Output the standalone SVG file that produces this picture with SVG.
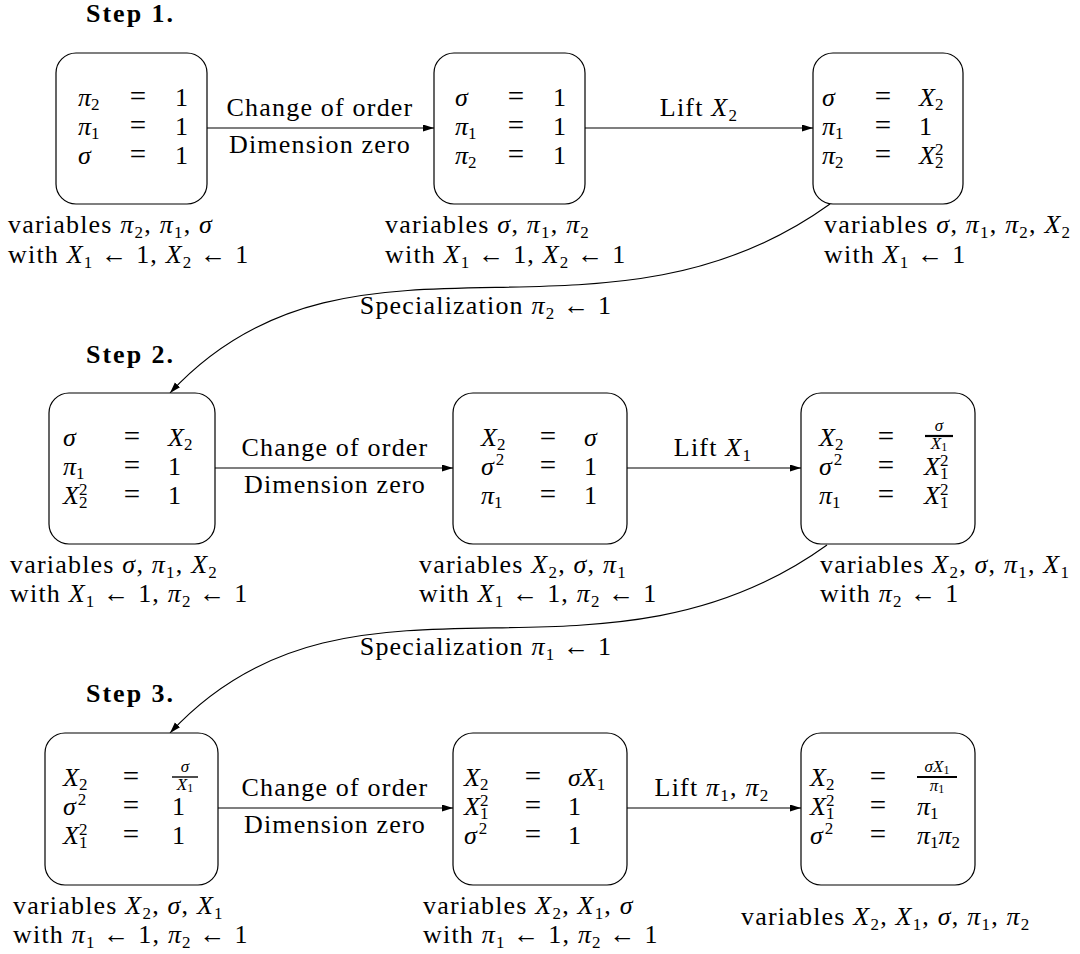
<svg xmlns="http://www.w3.org/2000/svg" width="1080" height="954" viewBox="0 0 1080 954">
<defs>
<style>
.t{font-family:"Liberation Serif","Times New Roman","DejaVu Serif",serif;font-size:26px;fill:#000}
.lb{letter-spacing:1.2px}
.i{font-style:italic}
.s{font-size:17px}
.f{font-size:17px}
.fs{font-size:12px}
.m{text-anchor:middle}
.q{font-size:29px}
.st{font-weight:bold;letter-spacing:2px}
.box{fill:#fff;stroke:#000;stroke-width:1.2}
.e{fill:none;stroke:#000;stroke-width:1.1;marker-end:url(#ah)}
.bar{stroke:#000}
</style>
<marker id="ah" markerWidth="11" markerHeight="8" refX="11" refY="3.5" orient="auto" markerUnits="userSpaceOnUse"><path d="M0,0 L11,3.5 L0,7 Z" fill="#000"/></marker>
</defs>
<rect width="1080" height="954" fill="#fff"/>

<g id="steps">
<text class="t st" x="86" y="22">Step 1.</text>
<text class="t st" x="86" y="363">Step 2.</text>
<text class="t st" x="86" y="702">Step 3.</text>
</g>

<g id="connectors">
<path class="e" d="M207,128 H434"/>
<path class="e" d="M585,128 H813"/>
<path class="e" d="M215,468 H453"/>
<path class="e" d="M627,468 H801"/>
<path class="e" d="M218,808 H453"/>
<path class="e" d="M627,808 H801"/>
<path class="e" d="M830,204 C600,370 350,198 170,393"/>
<path class="e" d="M827,545 C597,711 350,538 170,733"/>
<text class="t lb m" x="320" y="116">Change of order</text>
<text class="t lb m" x="320" y="153">Dimension zero</text>
<text class="t lb m" x="335" y="456">Change of order</text>
<text class="t lb m" x="335" y="493">Dimension zero</text>
<text class="t lb m" x="335" y="796">Change of order</text>
<text class="t lb m" x="335" y="833">Dimension zero</text>
<text class="t lb m" x="699" y="116">Lift <tspan class="i">X</tspan><tspan class="s" dy="5">2</tspan></text>
<text class="t lb m" x="713" y="456">Lift <tspan class="i">X</tspan><tspan class="s" dy="5">1</tspan></text>
<text class="t lb m" x="712" y="796">Lift <tspan class="i">π</tspan><tspan class="s" dy="5">1</tspan><tspan dy="-5">, </tspan><tspan class="i">π</tspan><tspan class="s" dy="5">2</tspan></text>
<text class="t lb m" x="486" y="314">Specialization <tspan class="i">π</tspan><tspan class="s" dy="5">2</tspan><tspan dy="-5"> ← 1</tspan></text>
<text class="t lb m" x="486" y="655">Specialization <tspan class="i">π</tspan><tspan class="s" dy="5">1</tspan><tspan dy="-5"> ← 1</tspan></text>
</g>

<g id="nA">
<rect class="box" x="56" y="53" width="151" height="151" rx="20"/>
<text class="t" x="78" y="106"><tspan class="i">π</tspan><tspan class="s" dy="4">2</tspan></text>
<text class="t m q" x="138" y="106">=</text>
<text class="t" x="175" y="106">1</text>
<text class="t" x="78" y="135"><tspan class="i">π</tspan><tspan class="s" dy="4">1</tspan></text>
<text class="t m q" x="138" y="135">=</text>
<text class="t" x="175" y="135">1</text>
<text class="t i" x="78" y="164">σ</text>
<text class="t m q" x="138" y="164">=</text>
<text class="t" x="175" y="164">1</text>
<text class="t lb" x="8" y="233">variables <tspan class="i">π</tspan><tspan class="s" dy="5">2</tspan><tspan dy="-5">, </tspan><tspan class="i">π</tspan><tspan class="s" dy="5">1</tspan><tspan dy="-5">, </tspan><tspan class="i">σ</tspan></text>
<text class="t lb" x="8" y="263">with <tspan class="i">X</tspan><tspan class="s" dy="5">1</tspan><tspan dy="-5"> ← 1, </tspan><tspan class="i">X</tspan><tspan class="s" dy="5">2</tspan><tspan dy="-5"> ← 1</tspan></text>
</g>

<g id="nB">
<rect class="box" x="434" y="53" width="151" height="151" rx="20"/>
<text class="t i" x="455" y="106">σ</text>
<text class="t m q" x="516" y="106">=</text>
<text class="t" x="553" y="106">1</text>
<text class="t" x="455" y="135"><tspan class="i">π</tspan><tspan class="s" dy="4">1</tspan></text>
<text class="t m q" x="516" y="135">=</text>
<text class="t" x="553" y="135">1</text>
<text class="t" x="455" y="164"><tspan class="i">π</tspan><tspan class="s" dy="4">2</tspan></text>
<text class="t m q" x="516" y="164">=</text>
<text class="t" x="553" y="164">1</text>
<text class="t lb" x="385" y="233">variables <tspan class="i">σ</tspan>, <tspan class="i">π</tspan><tspan class="s" dy="5">1</tspan><tspan dy="-5">, </tspan><tspan class="i">π</tspan><tspan class="s" dy="5">2</tspan></text>
<text class="t lb" x="385" y="263">with <tspan class="i">X</tspan><tspan class="s" dy="5">1</tspan><tspan dy="-5"> ← 1, </tspan><tspan class="i">X</tspan><tspan class="s" dy="5">2</tspan><tspan dy="-5"> ← 1</tspan></text>
</g>

<g id="nC">
<rect class="box" x="813" y="53" width="150" height="151" rx="20"/>
<text class="t i" x="822" y="106">σ</text>
<text class="t m q" x="883" y="106">=</text>
<text class="t" x="919" y="106"><tspan class="i">X</tspan><tspan class="s" dy="4">2</tspan></text>
<text class="t" x="822" y="135"><tspan class="i">π</tspan><tspan class="s" dy="4">1</tspan></text>
<text class="t m q" x="883" y="135">=</text>
<text class="t" x="919" y="135">1</text>
<text class="t" x="822" y="164"><tspan class="i">π</tspan><tspan class="s" dy="4">2</tspan></text>
<text class="t m q" x="883" y="164">=</text>
<text class="t" x="919" y="164"><tspan class="i">X</tspan><tspan class="s" dy="4">2</tspan><tspan class="s" dx="-8.5" dy="-13">2</tspan></text>
<text class="t lb" x="824" y="233">variables <tspan class="i">σ</tspan>, <tspan class="i">π</tspan><tspan class="s" dy="5">1</tspan><tspan dy="-5">, </tspan><tspan class="i">π</tspan><tspan class="s" dy="5">2</tspan><tspan dy="-5">, </tspan><tspan class="i">X</tspan><tspan class="s" dy="5">2</tspan></text>
<text class="t lb" x="824" y="263">with <tspan class="i">X</tspan><tspan class="s" dy="5">1</tspan><tspan dy="-5"> ← 1</tspan></text>
</g>

<g id="nD">
<rect class="box" x="49" y="393" width="166" height="151" rx="20"/>
<text class="t i" x="63" y="446">σ</text>
<text class="t m q" x="132" y="446">=</text>
<text class="t" x="168" y="446"><tspan class="i">X</tspan><tspan class="s" dy="4">2</tspan></text>
<text class="t" x="63" y="475"><tspan class="i">π</tspan><tspan class="s" dy="4">1</tspan></text>
<text class="t m q" x="132" y="475">=</text>
<text class="t" x="168" y="475">1</text>
<text class="t" x="63" y="504"><tspan class="i">X</tspan><tspan class="s" dy="4">2</tspan><tspan class="s" dx="-8.5" dy="-13">2</tspan></text>
<text class="t m q" x="132" y="504">=</text>
<text class="t" x="168" y="504">1</text>
<text class="t lb" x="10" y="573">variables <tspan class="i">σ</tspan>, <tspan class="i">π</tspan><tspan class="s" dy="5">1</tspan><tspan dy="-5">, </tspan><tspan class="i">X</tspan><tspan class="s" dy="5">2</tspan></text>
<text class="t lb" x="10" y="602">with <tspan class="i">X</tspan><tspan class="s" dy="5">1</tspan><tspan dy="-5"> ← 1, </tspan><tspan class="i">π</tspan><tspan class="s" dy="5">2</tspan><tspan dy="-5"> ← 1</tspan></text>
</g>

<g id="nE">
<rect class="box" x="453" y="393" width="174" height="151" rx="20"/>
<text class="t" x="481" y="446"><tspan class="i">X</tspan><tspan class="s" dy="4">2</tspan></text>
<text class="t m q" x="548" y="446">=</text>
<text class="t i" x="584" y="446">σ</text>
<text class="t" x="481" y="475"><tspan class="i">σ</tspan><tspan class="s" dx="2" dy="-10">2</tspan></text>
<text class="t m q" x="548" y="475">=</text>
<text class="t" x="584" y="475">1</text>
<text class="t" x="481" y="504"><tspan class="i">π</tspan><tspan class="s" dy="4">1</tspan></text>
<text class="t m q" x="548" y="504">=</text>
<text class="t" x="584" y="504">1</text>
<text class="t lb" x="419" y="573">variables <tspan class="i">X</tspan><tspan class="s" dy="5">2</tspan><tspan dy="-5">, </tspan><tspan class="i">σ</tspan>, <tspan class="i">π</tspan><tspan class="s" dy="5">1</tspan></text>
<text class="t lb" x="419" y="602">with <tspan class="i">X</tspan><tspan class="s" dy="5">1</tspan><tspan dy="-5"> ← 1, </tspan><tspan class="i">π</tspan><tspan class="s" dy="5">2</tspan><tspan dy="-5"> ← 1</tspan></text>
</g>

<g id="nF">
<rect class="box" x="801" y="393" width="174" height="151" rx="20"/>
<text class="t" x="819" y="446"><tspan class="i">X</tspan><tspan class="s" dy="4">2</tspan></text>
<text class="t m q" x="886" y="446">=</text>
<line class="bar" x1="925" y1="436" x2="953" y2="436" stroke-width="2.2"/>
<text class="t f i m" x="939" y="431">σ</text>
<text class="t f m" x="939" y="449"><tspan class="i">X</tspan><tspan class="fs" dy="2">1</tspan></text>
<text class="t" x="819" y="475"><tspan class="i">σ</tspan><tspan class="s" dx="2" dy="-10">2</tspan></text>
<text class="t m q" x="886" y="475">=</text>
<text class="t" x="924" y="475"><tspan class="i">X</tspan><tspan class="s" dy="4">1</tspan><tspan class="s" dx="-8.5" dy="-13">2</tspan></text>
<text class="t" x="819" y="504"><tspan class="i">π</tspan><tspan class="s" dy="4">1</tspan></text>
<text class="t m q" x="886" y="504">=</text>
<text class="t" x="924" y="504"><tspan class="i">X</tspan><tspan class="s" dy="4">1</tspan><tspan class="s" dx="-8.5" dy="-13">2</tspan></text>
<text class="t lb" x="820" y="573">variables <tspan class="i">X</tspan><tspan class="s" dy="5">2</tspan><tspan dy="-5">, </tspan><tspan class="i">σ</tspan>, <tspan class="i">π</tspan><tspan class="s" dy="5">1</tspan><tspan dy="-5">, </tspan><tspan class="i">X</tspan><tspan class="s" dy="5">1</tspan></text>
<text class="t lb" x="820" y="602">with <tspan class="i">π</tspan><tspan class="s" dy="5">2</tspan><tspan dy="-5"> ← 1</tspan></text>
</g>

<g id="nG">
<rect class="box" x="45" y="733" width="173" height="152" rx="20"/>
<text class="t" x="63" y="786"><tspan class="i">X</tspan><tspan class="s" dy="4">2</tspan></text>
<text class="t m q" x="131" y="786">=</text>
<line class="bar" x1="172" y1="777" x2="198" y2="777" stroke-width="1.4"/>
<text class="t f i m" x="185" y="772">σ</text>
<text class="t f m" x="185" y="790"><tspan class="i">X</tspan><tspan class="fs" dy="2">1</tspan></text>
<text class="t" x="63" y="815"><tspan class="i">σ</tspan><tspan class="s" dx="2" dy="-10">2</tspan></text>
<text class="t m q" x="131" y="815">=</text>
<text class="t" x="172" y="815">1</text>
<text class="t" x="63" y="844"><tspan class="i">X</tspan><tspan class="s" dy="4">1</tspan><tspan class="s" dx="-8.5" dy="-13">2</tspan></text>
<text class="t m q" x="131" y="844">=</text>
<text class="t" x="172" y="844">1</text>
<text class="t lb" x="13" y="914">variables <tspan class="i">X</tspan><tspan class="s" dy="5">2</tspan><tspan dy="-5">, </tspan><tspan class="i">σ</tspan>, <tspan class="i">X</tspan><tspan class="s" dy="5">1</tspan></text>
<text class="t lb" x="13" y="943">with <tspan class="i">π</tspan><tspan class="s" dy="5">1</tspan><tspan dy="-5"> ← 1, </tspan><tspan class="i">π</tspan><tspan class="s" dy="5">2</tspan><tspan dy="-5"> ← 1</tspan></text>
</g>

<g id="nH">
<rect class="box" x="453" y="733" width="174" height="152" rx="20"/>
<text class="t" x="464" y="786"><tspan class="i">X</tspan><tspan class="s" dy="4">2</tspan></text>
<text class="t m q" x="533" y="786">=</text>
<text class="t" x="568" y="786"><tspan class="i">σX</tspan><tspan class="s" dy="4">1</tspan></text>
<text class="t" x="464" y="815"><tspan class="i">X</tspan><tspan class="s" dy="4">1</tspan><tspan class="s" dx="-8.5" dy="-13">2</tspan></text>
<text class="t m q" x="533" y="815">=</text>
<text class="t" x="568" y="815">1</text>
<text class="t" x="464" y="844"><tspan class="i">σ</tspan><tspan class="s" dx="2" dy="-10">2</tspan></text>
<text class="t m q" x="533" y="844">=</text>
<text class="t" x="568" y="844">1</text>
<text class="t lb" x="423" y="914">variables <tspan class="i">X</tspan><tspan class="s" dy="5">2</tspan><tspan dy="-5">, </tspan><tspan class="i">X</tspan><tspan class="s" dy="5">1</tspan><tspan dy="-5">, </tspan><tspan class="i">σ</tspan></text>
<text class="t lb" x="423" y="943">with <tspan class="i">π</tspan><tspan class="s" dy="5">1</tspan><tspan dy="-5"> ← 1, </tspan><tspan class="i">π</tspan><tspan class="s" dy="5">2</tspan><tspan dy="-5"> ← 1</tspan></text>
</g>

<g id="nI">
<rect class="box" x="801" y="733" width="174" height="152" rx="20"/>
<text class="t" x="810" y="786"><tspan class="i">X</tspan><tspan class="s" dy="4">2</tspan></text>
<text class="t m q" x="878" y="786">=</text>
<line class="bar" x1="917" y1="777" x2="957" y2="777" stroke-width="2.2"/>
<text class="t f m" x="937" y="772"><tspan class="i">σX</tspan><tspan class="fs" dy="2">1</tspan></text>
<text class="t f m" x="937" y="791"><tspan class="i">π</tspan><tspan class="fs" dy="2">1</tspan></text>
<text class="t" x="810" y="815"><tspan class="i">X</tspan><tspan class="s" dy="4">1</tspan><tspan class="s" dx="-8.5" dy="-13">2</tspan></text>
<text class="t m q" x="878" y="815">=</text>
<text class="t" x="917" y="815"><tspan class="i">π</tspan><tspan class="s" dy="4">1</tspan></text>
<text class="t" x="810" y="844"><tspan class="i">σ</tspan><tspan class="s" dx="2" dy="-10">2</tspan></text>
<text class="t m q" x="878" y="844">=</text>
<text class="t" x="917" y="844"><tspan class="i">π</tspan><tspan class="s" dy="4">1</tspan><tspan class="i" dy="-4">π</tspan><tspan class="s" dy="4">2</tspan></text>
<text class="t lb" x="741" y="925">variables <tspan class="i">X</tspan><tspan class="s" dy="5">2</tspan><tspan dy="-5">, </tspan><tspan class="i">X</tspan><tspan class="s" dy="5">1</tspan><tspan dy="-5">, </tspan><tspan class="i">σ</tspan>, <tspan class="i">π</tspan><tspan class="s" dy="5">1</tspan><tspan dy="-5">, </tspan><tspan class="i">π</tspan><tspan class="s" dy="5">2</tspan></text>
</g>
</svg>
